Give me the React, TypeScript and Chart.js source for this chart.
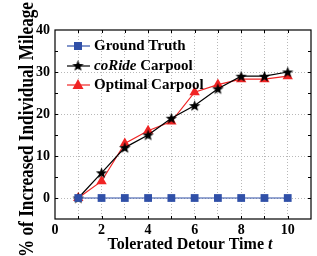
import { useEffect, useRef } from "react";
import { Chart, registerables } from "chart.js";
Chart.register(...registerables);

const xValues = [1, 2, 3, 4, 5, 6, 7, 8, 9, 10];
const groundTruth = [0, 0, 0, 0, 0, 0, 0, 0, 0, 0];
const coRide = [0, 6, 12, 15, 19, 22, 26, 29, 29, 30];
const optimal = [0, 4, 13, 16, 18.2, 25.2, 27, 28.3, 28.3, 29];
const xLabelTicks = [0, 2, 4, 6, 8, 10];
const yLabelTicks = [0, 10, 20, 30, 40];

const FONT = "'Liberation Serif', 'DejaVu Serif', serif";
const BLUE = "#3050a8";
const RED = "#f02424";

function makeStar(size: number, color: string) {
  const c = document.createElement("canvas");
  c.width = size;
  c.height = size;
  const g = c.getContext("2d")!;
  const cx = size / 2, cy = size / 2 + 0.5;
  const R = size / 2 - 0.5, r = R * 0.42;
  g.beginPath();
  for (let i = 0; i < 10; i++) {
    const ang = -Math.PI / 2 + (i * Math.PI) / 5;
    const rad = i % 2 === 0 ? R : r;
    const px = cx + rad * Math.cos(ang), py = cy + rad * Math.sin(ang);
    if (i === 0) g.moveTo(px, py); else g.lineTo(px, py);
  }
  g.closePath();
  g.fillStyle = color;
  g.fill();
  return c;
}

export default function App() {
  const ref = useRef<HTMLCanvasElement | null>(null);
  useEffect(() => {
    document.body.style.margin = "0";
    const star = makeStar(13, "#000");
    const toPts = (arr: number[]) => arr.map((y, i) => ({ x: xValues[i], y }));

    const framePlugin = {
      id: "frame",
      afterDraw(chart: any) {
        const { ctx, chartArea: a, scales } = chart;
        const xs = scales.x, ys = scales.y;
        ctx.save();
        ctx.strokeStyle = "#000";
        ctx.lineWidth = 1.2;
        ctx.strokeRect(a.left, a.top, a.right - a.left, a.bottom - a.top);
        ctx.lineWidth = 1;
        const tl = 3;
        for (let v = 1; v <= 10; v++) {
          const px = Math.round(xs.getPixelForValue(v)) + 0.5;
          ctx.beginPath();
          ctx.moveTo(px, a.bottom); ctx.lineTo(px, a.bottom - tl);
          ctx.moveTo(px, a.top); ctx.lineTo(px, a.top + tl);
          ctx.stroke();
        }
        for (let v = 0; v <= 35; v += 5) {
          const py = Math.round(ys.getPixelForValue(v)) + 0.5;
          ctx.beginPath();
          ctx.moveTo(a.left, py); ctx.lineTo(a.left + tl, py);
          ctx.moveTo(a.right, py); ctx.lineTo(a.right - tl, py);
          ctx.stroke();
        }
        // y title (condensed, as in the reference)
        ctx.fillStyle = "#000";
        ctx.save();
        ctx.font = `bold 22px ${FONT}`;
        const yt = "% of Increased Individual Mileage";
        const yw = ctx.measureText(yt).width;
        const sc = 255 / yw;
        ctx.translate(33, 129.5);
        ctx.rotate(-Math.PI / 2);
        ctx.scale(sc, 1);
        ctx.textAlign = "center";
        ctx.textBaseline = "alphabetic";
        ctx.fillText(yt, 0, 0);
        ctx.restore();

        // x title
        ctx.textBaseline = "middle";
        const tb = `bold 16px ${FONT}`;
        const tbi = `italic bold 16px ${FONT}`;
        const p1 = "Tolerated Detour Time ";
        ctx.font = tb;
        const w1 = ctx.measureText(p1).width;
        ctx.font = tbi;
        const w2 = ctx.measureText("t").width;
        const cx = (a.left + a.right) / 2 + 7;
        const sx = cx - (w1 + w2) / 2;
        ctx.font = tb;
        ctx.textAlign = "left";
        ctx.fillText(p1, sx, 245);
        ctx.font = tbi;
        ctx.fillText("t", sx + w1, 245);

        // legend
        const lx0 = 67, lx1 = 90, mx = 78, tx = 94;
        const rows = [46, 66, 85];
        ctx.lineWidth = 1.2;
        ctx.strokeStyle = BLUE;
        ctx.beginPath(); ctx.moveTo(lx0, rows[0]); ctx.lineTo(lx1, rows[0]); ctx.stroke();
        ctx.fillStyle = BLUE;
        ctx.fillRect(mx - 4, rows[0] - 4, 8, 8);
        ctx.strokeStyle = "#000";
        ctx.beginPath(); ctx.moveTo(lx0, rows[1]); ctx.lineTo(lx1, rows[1]); ctx.stroke();
        ctx.drawImage(star, mx - 6.5, rows[1] - 7);
        ctx.strokeStyle = RED;
        ctx.beginPath(); ctx.moveTo(lx0, rows[2]); ctx.lineTo(lx1, rows[2]); ctx.stroke();
        ctx.fillStyle = RED;
        ctx.beginPath();
        ctx.moveTo(mx, rows[2] - 6);
        ctx.lineTo(mx + 5.5, rows[2] + 4);
        ctx.lineTo(mx - 5.5, rows[2] + 4);
        ctx.closePath();
        ctx.fill();

        const lb = `bold 15px ${FONT}`;
        const lbi = `italic bold 15px ${FONT}`;
        ctx.fillStyle = "#000";
        ctx.font = lb;
        ctx.fillText("Ground Truth", tx, rows[0]);
        ctx.font = lbi;
        ctx.fillText("coRide", tx, rows[1]);
        const wc = ctx.measureText("coRide").width;
        ctx.font = lb;
        ctx.fillText(" Carpool", tx + wc, rows[1]);
        ctx.fillText("Optimal Carpool", tx, rows[2]);
        ctx.restore();
      },
    };

    const chart = new Chart(ref.current!, {
      type: "line",
      data: {
        datasets: [
          {
            label: "Ground Truth",
            data: toPts(groundTruth),
            borderColor: BLUE,
            backgroundColor: BLUE,
            borderWidth: 1.2,
            pointStyle: "rect",
            pointRadius: 5.5,
            pointBorderWidth: 0,
          },
          {
            label: "coRide Carpool",
            data: toPts(coRide),
            borderColor: "#000",
            backgroundColor: "#000",
            borderWidth: 1.2,
            pointStyle: star as any,
          },
          {
            label: "Optimal Carpool",
            data: toPts(optimal),
            borderColor: RED,
            backgroundColor: RED,
            borderWidth: 1.2,
            pointStyle: "triangle",
            pointRadius: 6,
            pointBorderWidth: 0,
          },
        ],
      },
      options: {
        animation: false,
        responsive: false,
        maintainAspectRatio: false,
        layout: { padding: { top: 30, right: 2, left: 0, bottom: 0 } },
        plugins: { legend: { display: false }, tooltip: { enabled: false } },
        scales: {
          x: {
            type: "linear",
            min: 0,
            max: 11,
            afterFit(s: any) { s.height = 37; },
            ticks: {
              stepSize: 1,
              autoSkip: false,
              maxRotation: 0,
              padding: 3,
              color: "#000",
              font: { family: FONT, weight: "bold", size: 14 },
              callback: (v: any) => (xLabelTicks.includes(v) ? String(v) : ""),
            },
            grid: {
              color: (c: any) => (c.tick && c.tick.value >= 1 && c.tick.value <= 10 ? "#b8b8b8" : "rgba(0,0,0,0)"),
              lineWidth: 1,
              drawTicks: false,
            },
            border: { display: false, dash: [1, 2] },
          },
          y: {
            min: -5,
            max: 40,
            afterFit(s: any) { s.width = 55; },
            ticks: {
              stepSize: 5,
              autoSkip: false,
              padding: 5,
              color: "#000",
              font: { family: FONT, weight: "bold", size: 14 },
              callback: (v: any) => (yLabelTicks.includes(v) ? String(v) : ""),
            },
            grid: {
              color: (c: any) => (c.tick && [0, 10, 20, 30].includes(c.tick.value) ? "#b8b8b8" : "rgba(0,0,0,0)"),
              lineWidth: 1,
              drawTicks: false,
            },
            border: { display: false, dash: [1, 2] },
          },
        },
      },
      plugins: [framePlugin],
    });
    return () => chart.destroy();
  }, []);

  return (
    <div style={{ width: 317, height: 256 }}>
      <canvas ref={ref} width={317} height={256} style={{ display: "block" }} />
    </div>
  );
}
